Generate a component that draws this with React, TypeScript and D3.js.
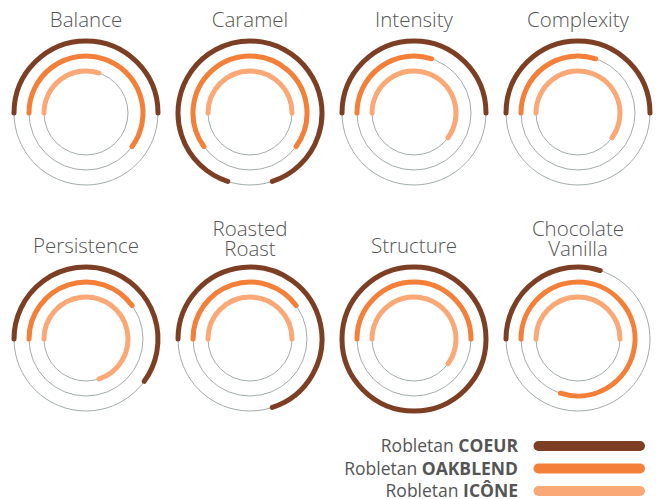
import React from "react";
import * as d3 from "d3";

const categories = ["Balance", "Caramel", "Intensity", "Complexity", "Persistence", "Roasted Roast", "Structure", "Chocolate Vanilla"];
const titleLines = [["Balance"], ["Caramel"], ["Intensity"], ["Complexity"], ["Persistence"], ["Roasted", "Roast"], ["Structure"], ["Chocolate", "Vanilla"]];
const alignment = ["start", "center", "start", "start", "start", "start", "start", "start"];

const seriesNames = ["COEUR", "OAKBLEND", "ICÔNE"];
const coeur = [5, 9, 5, 5, 6, 7, 10, 3];
const oakblend = [6, 7, 3, 3, 4, 4, 5, 8];
const icone = [3, 5, 6, 6, 7, 5, 6, 5];
const seriesValues = [coeur, oakblend, icone];
const seriesColors = ["#7d3f24", "#f47f38", "#fba877"];
const maxValue = 10;

const W = 656;
const H = 499;

export default function App() {
  const col = d3.scalePoint<number>().domain([0, 1, 2, 3]).range([86, 578]);
  const row = d3.scalePoint<number>().domain([0, 1]).range([113, 339]);
  const radius = d3.scalePoint<number>().domain([0, 1, 2]).range([72, 42]);
  // value -> angle in radians (SVG convention), 0 at 9 o'clock, clockwise
  const ang = d3.scaleLinear().domain([0, maxValue]).range([Math.PI, Math.PI * 3]);

  const arcPath = (cx: number, cy: number, r: number, v0: number, v1: number) => {
    const p = d3.path();
    const a0 = ang(v0);
    const a1 = ang(v1);
    p.moveTo(cx + r * Math.cos(a0), cy + r * Math.sin(a0));
    p.arc(cx, cy, r, a0, a1, false);
    return p.toString();
  };

  const legendY = d3.scalePoint<number>().domain([0, 1, 2]).range([446, 491]);

  return (
    <svg width={W} height={H} style={{ position: "absolute", left: 0, top: 0, background: "#fff" }} fontFamily="'Open Sans', sans-serif">
      {categories.map((cat, i) => {
        const cx = col(i % 4)!;
        const cy = row(Math.floor(i / 4))!;
        const lines = titleLines[i];
        const lastBase = lines.length > 1 ? cy - 83 : cy - 86;
        return (
          <g key={cat}>
            {lines.map((t, k) => (
              <text key={k} x={cx} y={lastBase - (lines.length - 1 - k) * 20} textAnchor="middle" fontSize={20.5} fontWeight={350} fill="#555">
                {t}
              </text>
            ))}
            {seriesValues.map((vals, s) => (
              <circle key={"t" + s} cx={cx} cy={cy} r={radius(s)!} fill="none" stroke="#a3acac" strokeWidth={1} />
            ))}
            {seriesValues.map((vals, s) => {
              const v = vals[i];
              const start = alignment[i] === "center" ? (maxValue / 4) - v / 2 : 0;
              return (
                <path
                  key={"a" + s}
                  d={arcPath(cx, cy, radius(s)!, start, start + v)}
                  fill="none"
                  stroke={seriesColors[s]}
                  strokeWidth={5}
                  strokeLinecap="round"
                />
              );
            })}
          </g>
        );
      })}
      {seriesNames.map((n, s) => {
        const y = legendY(s)!;
        return (
          <g key={n}>
            <text x={518} y={y + 6} textAnchor="end" fontSize={17.5} fill="#555">
              Robletan <tspan fontWeight="bold">{n}</tspan>
            </text>
            <line x1={538.5} x2={640} y1={y} y2={y} stroke={seriesColors[s]} strokeWidth={10} strokeLinecap="round" />
          </g>
        );
      })}
    </svg>
  );
}
